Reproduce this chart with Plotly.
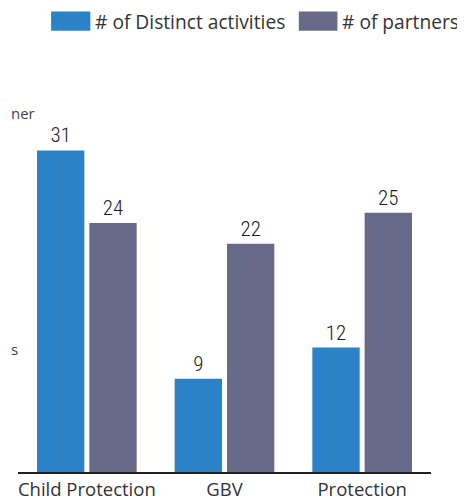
import plotly.graph_objects as go

categories = ["Child Protection", "GBV", "Protection"]
series_names = ["# of Distinct activities", "# of partners"]
distinct_activities = [31, 9, 12]
partners = [24, 22, 25]
colors = ["#2B82C7", "#676A89"]

OFF = 8  # browser body margin
W, H = 465 - OFF, 503 - OFF
L, R, T, B = 17.5 - OFF, 33.5, 108.8 - OFF, 30.5
plot_w = W - L - R
plot_h = H - T - B

def px_x(px):
    return (px - OFF - L) / plot_w

def px_y(py):
    return (H - B - (py - OFF)) / plot_h

label_font = dict(family="Roboto Condensed, DejaVu Sans Condensed, Liberation Sans Narrow, Roboto, sans-serif",
                  size=21, color="#222222", weight=300)

fig = go.Figure()
for name, vals, col in zip(series_names, [distinct_activities, partners], colors):
    fig.add_trace(go.Bar(
        x=categories, y=vals, name=name, marker=dict(color=col, line=dict(width=0)),
        text=[str(v) for v in vals], textposition="outside", textfont=label_font,
        cliponaxis=False, showlegend=False,
    ))

# custom legend (swatches + labels)
sw_x = [(50.7, 90.0), (299.0, 337.7)]
txt_x = [94.0, 341.0]
shapes = []
annotations = []
for (x0, x1), tx, name, col in zip(sw_x, txt_x, series_names, colors):
    shapes.append(dict(type="rect", xref="paper", yref="paper",
                       x0=px_x(x0), x1=px_x(x1), y0=px_y(30.5), y1=px_y(11),
                       fillcolor=col, line=dict(width=0)))
    annotations.append(dict(xref="paper", yref="paper", x=px_x(tx), y=px_y(21),
                            xanchor="left", yanchor="middle", showarrow=False,
                            borderpad=0,
                            text=name, font=dict(family="Open Sans", size=19.2, color="#333333")))

# stray text fragments at the left edge
annotations.append(dict(xref="paper", yref="paper", x=px_x(OFF), y=px_y(113),
                        xanchor="left", yanchor="middle", showarrow=False,
                        text="ner", font=dict(family="Open Sans", size=15, color="#444444")))
annotations.append(dict(xref="paper", yref="paper", x=px_x(OFF), y=px_y(349),
                        xanchor="left", yanchor="middle", showarrow=False,
                        text="s", font=dict(family="Open Sans", size=15, color="#444444")))

fig.update_layout(
    template="none",
    width=W, height=H,
    margin=dict(l=L, r=R, t=T, b=B, pad=0, autoexpand=False),
    paper_bgcolor="white", plot_bgcolor="white",
    barmode="group", bargap=0.24, bargroupgap=0.095,
    showlegend=False,
    shapes=shapes, annotations=annotations,
    xaxis=dict(showline=True, linecolor="#222222", linewidth=2, ticks="",
               automargin=False,
               tickfont=dict(family="Open Sans", size=18.5, color="#333333"),
               showgrid=False, zeroline=False),
    yaxis=dict(range=[0, 35], visible=False, showgrid=False, zeroline=False,
               automargin=False),
)

fig.write_html("out.html")
